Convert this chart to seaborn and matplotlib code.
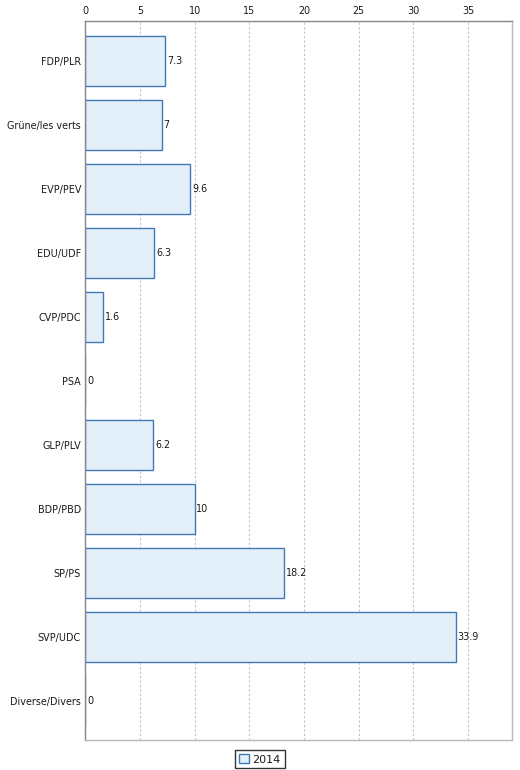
import matplotlib
matplotlib.use("Agg")
import matplotlib.pyplot as plt
import seaborn as sns
import pandas as pd
from matplotlib.patches import Patch

categories = ["FDP/PLR", "Grüne/les verts", "EVP/PEV", "EDU/UDF", "CVP/PDC", "PSA",
              "GLP/PLV", "BDP/PBD", "SP/PS", "SVP/UDC", "Diverse/Divers"]
values_2014 = [7.3, 7, 9.6, 6.3, 1.6, 0, 6.2, 10, 18.2, 33.9, 0]
value_labels = ["7.3", "7", "9.6", "6.3", "1.6", "0", "6.2", "10", "18.2", "33.9", "0"]
series_name = "2014"
x_ticks = [0, 5, 10, 15, 20, 25, 30, 35]

df = pd.DataFrame({"party": categories, "value": values_2014})

sns.set_theme(style="white")
plt.rcParams['font.family'] = ['DejaVu Sans']

face = "#e4f0f9"
edge = "#4079b5"
fs = 6.9

fig = plt.figure(figsize=(5.2, 7.7), dpi=100)
ax = fig.add_axes([0.1644, 0.039, 0.8196, 0.9337])

sns.barplot(data=df, x="value", y="party", orient="h", ax=ax, color=face,
            edgecolor=edge, linewidth=1.0, width=0.78, saturation=1)

ax.set_xlim(0, 39)
ax.set_ylim(10.61, -0.63)
ax.set_xticks(x_ticks)
ax.xaxis.tick_top()
ax.xaxis.set_label_position("top")
ax.tick_params(axis="x", length=0, pad=3.5, labelsize=fs, labelcolor="#1a1a1a")
ax.tick_params(axis="y", length=0, pad=3.2, labelsize=fs, labelcolor="#1a1a1a")
ax.set_xlabel("")
ax.set_ylabel("")

ax.grid(axis="x", color="#a9c8e6", linestyle=(0, (2, 2)), linewidth=0.8)
ax.grid(axis="y", visible=False)
ax.set_axisbelow(True)

ax.spines["top"].set_color("#888888")
ax.spines["left"].set_color("#888888")
ax.spines["right"].set_color("#bbbbbb")
ax.spines["bottom"].set_color("#bbbbbb")
for s in ax.spines.values():
    s.set_linewidth(1.0)

for i, (v, lab) in enumerate(zip(values_2014, value_labels)):
    ax.annotate(lab, xy=(v, i), xytext=(1.2, 0), textcoords="offset points",
                ha="left", va="center", fontsize=fs, color="#1a1a1a")

handles = [Patch(facecolor=face, edgecolor=edge, linewidth=1.0, label=series_name)]
leg = fig.legend(handles=handles, loc="lower center", bbox_to_anchor=(0.5, 0.002),
                 frameon=True, fancybox=False, fontsize=8, handlelength=0.9,
                 handleheight=0.9, handletextpad=0.3, borderpad=0.35,
                 borderaxespad=0)
leg.get_frame().set_edgecolor("#000000")
leg.get_frame().set_linewidth(1.0)
for t in leg.get_texts():
    t.set_color("#1a1a1a")

fig.savefig("out.png", dpi=100)
